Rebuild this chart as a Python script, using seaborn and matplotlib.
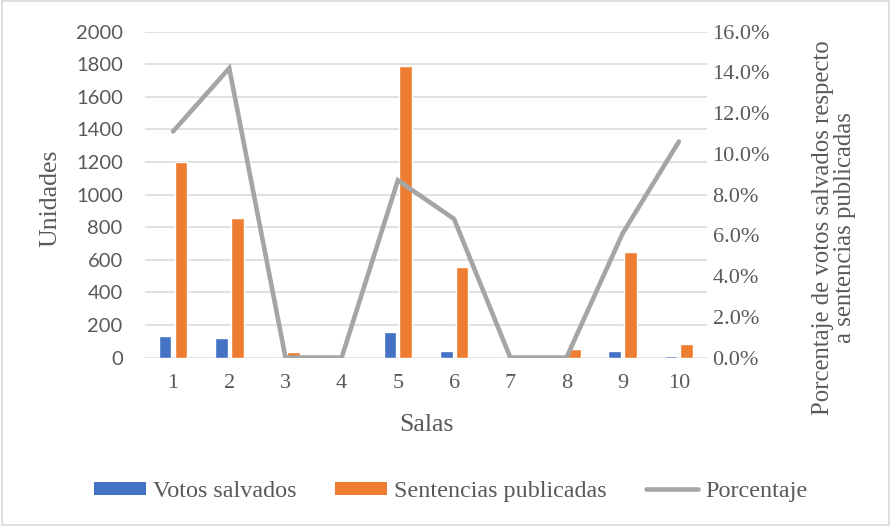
import numpy as np
import pandas as pd
import matplotlib
matplotlib.use("Agg")
import matplotlib.pyplot as plt
from matplotlib.patches import Patch, Rectangle
from matplotlib.lines import Line2D
from matplotlib.ticker import FuncFormatter, MultipleLocator
import seaborn as sns

# Data per sala
salas = ["1", "2", "3", "4", "5", "6", "7", "8", "9", "10"]
votos_salvados = [133, 121, 0, 0, 155, 38, 0, 0, 39, 9]
sentencias_publicadas = [1200, 858, 33, 0, 1788, 557, 0, 51, 646, 84]
porcentaje = [0.111, 0.142, 0.0, 0.0, 0.087, 0.068, 0.0, 0.0, 0.061, 0.106]

serie_votos = "Votos salvados"
serie_sent = "Sentencias publicadas"
serie_pct = "Porcentaje"

BLUE = "#4472C4"
ORANGE = "#ED7D31"
GRAY = "#A5A5A5"
TEXT = "#595959"
GRID = "#D9D9D9"

sns.set_theme(style="white")
plt.rcParams["font.family"] = ["Liberation Serif", "DejaVu Serif"]

df = pd.DataFrame({
    "Sala": salas * 2,
    "Unidades": votos_salvados + sentencias_publicadas,
    "Serie": [serie_votos] * len(salas) + [serie_sent] * len(salas),
})

W, H = 891, 526
fig = plt.figure(figsize=(W / 100, H / 100), dpi=100)
ax = fig.add_axes([0.1627, 0.3203, 0.6308, 0.6197])

sns.barplot(data=df, x="Sala", y="Unidades", hue="Serie", order=salas,
            hue_order=[serie_votos, serie_sent],
            palette=[BLUE, ORANGE], width=0.565, gap=0.2,
            saturation=1, legend=False, ax=ax, zorder=2)

ax.set_xlim(-0.5, len(salas) - 0.5)
ax.set_ylim(0, 2000)
ax.yaxis.set_major_locator(MultipleLocator(200))
ax.grid(axis="y", color=GRID, linewidth=1.1, zorder=0)
ax.set_axisbelow(True)
for s in ax.spines.values():
    s.set_visible(False)
ax.tick_params(axis="both", length=0, colors=TEXT)
ax.tick_params(axis="x", pad=12, labelsize=16)
ax.tick_params(axis="y", pad=16)
for lab in ax.get_yticklabels():
    lab.set_fontfamily(["Lato", "DejaVu Sans"])
    lab.set_fontsize(14.5)
ax.set_xlabel("Salas", fontsize=18.5, color=TEXT, labelpad=15)
ax.set_ylabel("")

ax2 = ax.twinx()
sns.lineplot(x=np.arange(len(salas)), y=porcentaje, ax=ax2, color=GRAY,
             linewidth=3.3, solid_capstyle="round", solid_joinstyle="miter",
             zorder=3)
ax2.set_ylim(0, 0.16)
ax2.yaxis.set_major_locator(MultipleLocator(0.02))
ax2.yaxis.set_major_formatter(FuncFormatter(lambda v, p: f"{v * 100:.1f}%"))
for s in ax2.spines.values():
    s.set_visible(False)
ax2.tick_params(axis="y", length=0, colors=TEXT, labelsize=16, pad=4)
ax2.set_ylabel("")
ax2.grid(False)

# axis titles
fig.text(50 / W, 1 - 198 / H, "Unidades", rotation=90, ha="center",
         va="center", fontsize=18.5, color=TEXT)
fig.text(834 / W, 1 - 228 / H,
         "Porcentaje de votos salvados respecto\na sentencias publicadas",
         rotation=90, ha="center", va="center", multialignment="center",
         fontsize=17.8, color=TEXT, linespacing=0.95)

handles = [
    Patch(facecolor=BLUE, edgecolor="none"),
    Patch(facecolor=ORANGE, edgecolor="none"),
    Line2D([0], [0], color=GRAY, linewidth=3.3, solid_capstyle="round"),
]
fig.legend(handles, [serie_votos, serie_sent, serie_pct], loc="center",
           bbox_to_anchor=(0.5056, 0.066), ncol=3, frameon=False,
           prop={"size": 17.4}, labelcolor=TEXT, handlelength=2.15,
           handleheight=0.45, handletextpad=0.3, columnspacing=1.6)

# chart border
fig.patches.append(Rectangle((0.002, 0.002), 0.996, 0.996, transform=fig.transFigure,
                             fill=False, edgecolor=GRID, linewidth=1.2))

fig.savefig("out.png", dpi=100, facecolor="white")
